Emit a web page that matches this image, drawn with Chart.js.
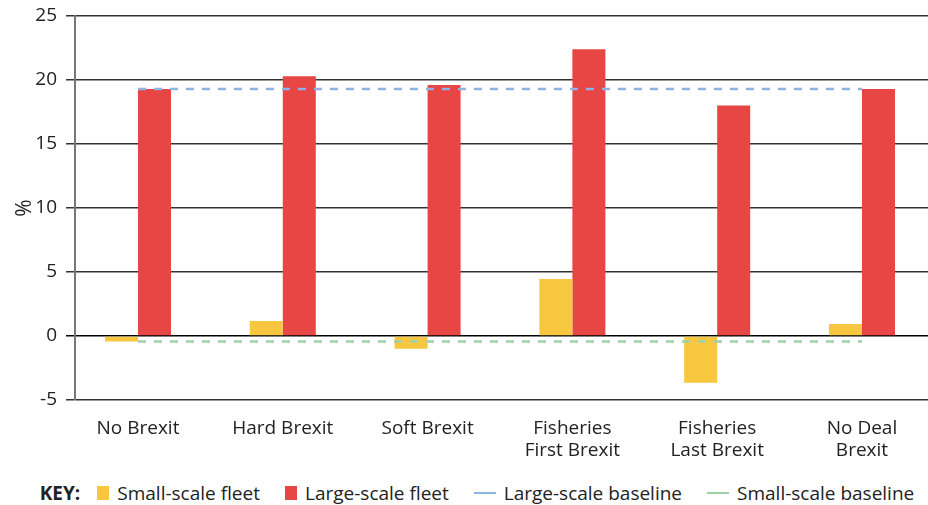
<!DOCTYPE html>
<html>
<head>
<meta charset="utf-8">
<script src="https://cdn.jsdelivr.net/npm/chart.js@4/dist/chart.umd.min.js"></script>
<style>
  body { margin: 0; background: #fff; font-family: "Open Sans", sans-serif; }
  #wrap { position: relative; width: 928px; height: 505px; overflow: hidden; }
  #legend {
    position: absolute; left: 0; top: 479px; width: 928px; height: 28px;
    box-sizing: border-box; padding-left: 26px;
    display: flex; align-items: center; justify-content: center;
    font-size: 19px; color: #222;
  }
  #legend .key { font-weight: 700; margin-right: 17px; }
  #legend .item { display: flex; align-items: center; margin-right: 25px; }
  #legend .item:last-child { margin-right: 0; }
  #legend .sw { display: inline-block; margin-right: 8px; }
</style>
</head>
<body>
<div id="wrap">
  <canvas id="chart" width="928" height="470"></canvas>
  <div id="legend"></div>
</div>
<script>
const categories = [
  ['No Brexit'],
  ['Hard Brexit'],
  ['Soft Brexit'],
  ['Fisheries', 'First Brexit'],
  ['Fisheries', 'Last Brexit'],
  ['No Deal', 'Brexit']
];
const smallScale = [-0.42, 1.17, -1.0, 4.45, -3.65, 0.94];
const largeScale = [19.3, 20.3, 19.6, 22.4, 18.0, 19.3];
const largeBaseline = [19.3, 19.3, 19.3, 19.3, 19.3, 19.3];
const smallBaseline = [-0.42, -0.42, -0.42, -0.42, -0.42, -0.42];
const yTicks = [-5, 0, 5, 10, 15, 20, 25];

const toPoints = arr => arr.map((v, i) => ({ x: i, y: v }));

const chartRef = document.getElementById('chart').getContext('2d');

const chart = new Chart(chartRef, {
  type: 'bar',
  data: {
    datasets: [
      {
        label: 'Small-scale fleet',
        data: toPoints(smallScale),
        backgroundColor: '#f7c740',
        order: 2
      },
      {
        label: 'Large-scale fleet',
        data: toPoints(largeScale),
        backgroundColor: '#e84545',
        order: 2
      },
      {
        type: 'line',
        label: 'Large-scale baseline',
        data: toPoints(largeBaseline),
        borderColor: '#8db4e2',
        borderWidth: 2.5,
        borderDash: [8, 8],
        pointRadius: 0,
        fill: false,
        order: 1
      },
      {
        type: 'line',
        label: 'Small-scale baseline',
        data: toPoints(smallBaseline),
        borderColor: '#9fd0a8',
        borderWidth: 2.5,
        borderDash: [8, 8],
        pointRadius: 0,
        fill: false,
        order: 1
      }
    ]
  },
  options: {
    responsive: false,
    animation: false,
    categoryPercentage: 0.456,
    barPercentage: 1,
    layout: { padding: { top: 16, right: 0, left: 0, bottom: 0 } },
    plugins: {
      legend: { display: false },
      tooltip: { enabled: false }
    },
    scales: {
      x: {
        type: 'linear',
        offset: false,
        bounds: 'data',
        min: -0.435,
        max: 5.456,
        afterBuildTicks: scale => {
          scale.ticks = categories.map((c, i) => ({ value: i }));
        },
        afterFit: scale => {
          scale.height = 70;
          scale.paddingLeft = 0;
          scale.paddingRight = 0;
        },
        grid: { display: false, drawTicks: false, offset: false },
        border: { display: false },
        ticks: {
          autoSkip: false,
          maxRotation: 0,
          padding: 18,
          color: '#222',
          font: { family: 'Open Sans', size: 19, lineHeight: 1.16 },
          callback: v => categories[v]
        }
      },
      y: {
        min: -5,
        max: 25,
        afterBuildTicks: scale => {
          scale.ticks = yTicks.map(v => ({ value: v }));
        },
        afterFit: scale => {
          scale.width = 75;
          scale.paddingTop = 0;
          scale.paddingBottom = 0;
        },
        grid: {
          color: ctx => (ctx.tick && ctx.tick.value === 0) ? '#000' : '#333',
          lineWidth: 1.5,
          tickLength: 9,
          drawTicks: true
        },
        border: { display: true, color: '#777', width: 2 },
        ticks: {
          padding: 9,
          color: '#222',
          font: { family: 'Open Sans', size: 19 }
        },
        title: {
          display: true,
          text: '%',
          color: '#222',
          font: { family: 'Open Sans', size: 21 },
          padding: { top: 12, bottom: 0 }
        }
      }
    }
  }
});

// legend below the chart, built from the datasets
const legend = document.getElementById('legend');
legend.innerHTML = '<span class="key">KEY:</span>' + chart.data.datasets.map(ds => {
  const sw = ds.type === 'line'
    ? `<span class="sw" style="width:22px;height:2px;background:${ds.borderColor}"></span>`
    : `<span class="sw" style="width:12px;height:14px;background:${ds.backgroundColor}"></span>`;
  return `<span class="item">${sw}${ds.label}</span>`;
}).join('');
</script>
</body>
</html>
